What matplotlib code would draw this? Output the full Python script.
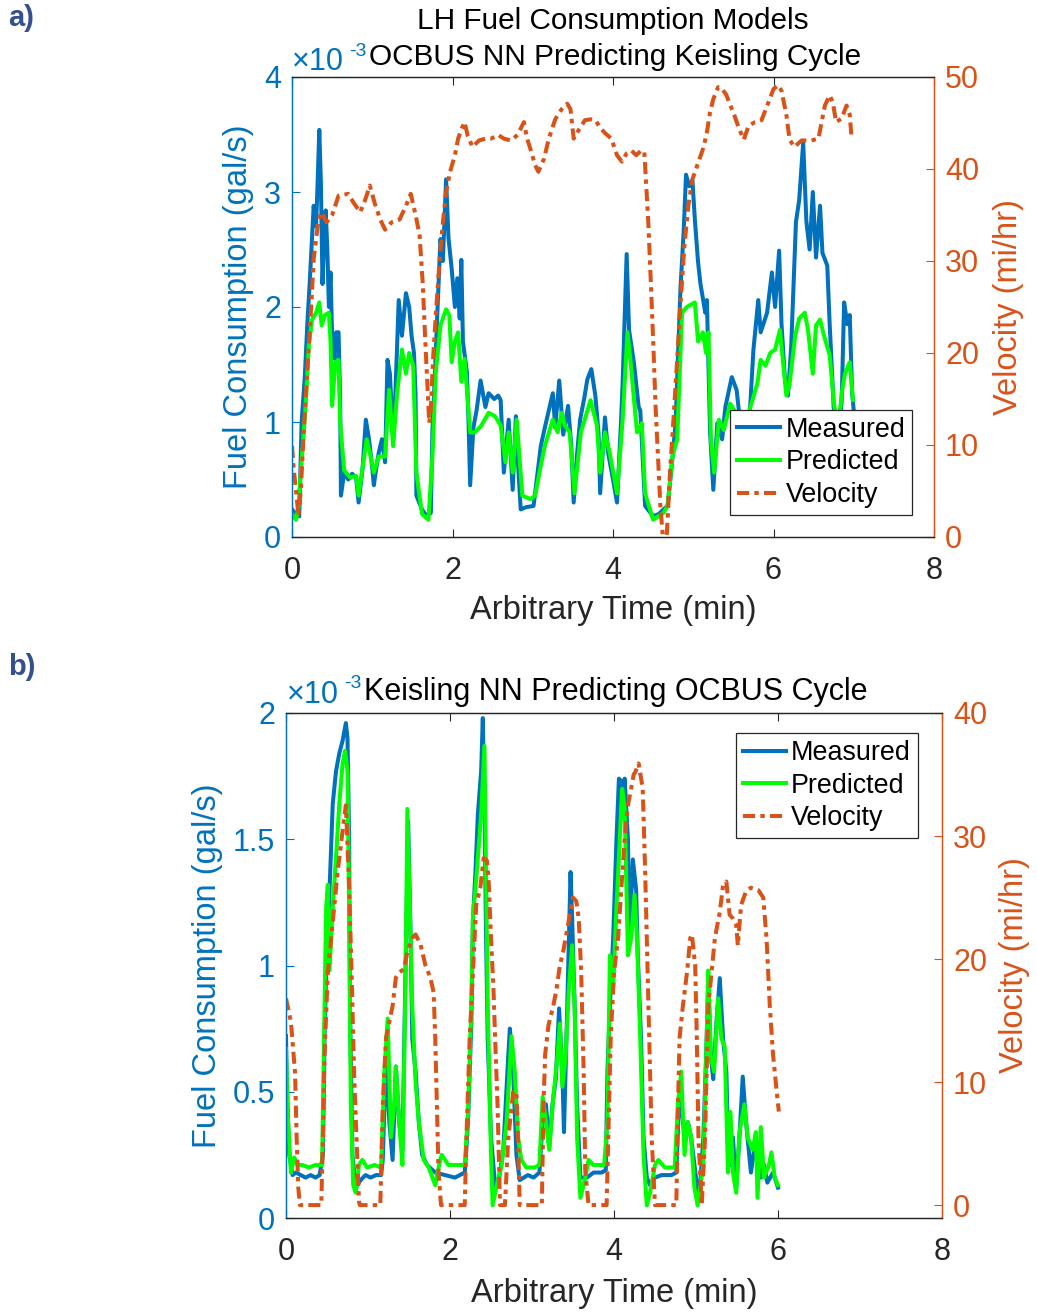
import matplotlib
matplotlib.use("Agg")
import matplotlib.pyplot as plt

plt.rcParams['font.family'] = ['Liberation Sans', 'DejaVu Sans']

W, H = 1037, 1314
BLUE = '#0072BD'
GREEN = '#00FF00'
ORANGE = '#D95319'
DARK = '#262626'

# ---- panel a: OCBUS NN predicting Keisling cycle (fuel in 1e-3 gal/s) ----
a_meas_t = [0.00, 0.05, 0.09, 0.12, 0.16, 0.19, 0.22, 0.24, 0.27, 0.30, 0.32, 0.34, 0.36, 0.38, 0.40,
            0.42, 0.44, 0.46, 0.48, 0.50, 0.53, 0.55, 0.58, 0.60, 0.61, 0.65, 0.70, 0.75, 0.80, 0.83,
            0.88, 0.92, 0.96, 1.00, 1.02, 1.05, 1.08, 1.12, 1.16, 1.19, 1.22, 1.26, 1.29, 1.33, 1.37,
            1.42, 1.46, 1.49, 1.52, 1.54, 1.55, 1.62, 1.68, 1.73, 1.75, 1.78, 1.81, 1.85, 1.88, 1.92,
            1.95, 1.99, 2.03, 2.06, 2.09, 2.11, 2.13, 2.18, 2.20, 2.22, 2.26, 2.30, 2.35, 2.41, 2.45,
            2.52, 2.57, 2.60, 2.64, 2.70, 2.75, 2.79, 2.82, 2.85, 2.92, 3.01, 3.10, 3.15, 3.20, 3.25,
            3.28, 3.33, 3.38, 3.44, 3.48, 3.51, 3.55, 3.59, 3.64, 3.68, 3.73, 3.78, 3.82, 3.84, 3.90,
            3.94, 4.00, 4.05, 4.10, 4.12, 4.17, 4.20, 4.26, 4.32, 4.34, 4.40, 4.50, 4.57, 4.63, 4.68,
            4.73, 4.78, 4.84, 4.88, 4.91, 4.95, 4.99, 5.02, 5.06, 5.09, 5.15, 5.17, 5.18, 5.21, 5.25,
            5.30, 5.36, 5.40, 5.48, 5.54, 5.60, 5.65, 5.71, 5.75, 5.81, 5.84, 5.92, 5.98, 6.02, 6.07,
            6.10, 6.14, 6.18, 6.22, 6.28, 6.32, 6.37, 6.41, 6.45, 6.49, 6.53, 6.58, 6.61, 6.67, 6.70,
            6.75, 6.80, 6.85, 6.88, 6.92, 6.95, 6.98, 7.00]
a_meas = [0.24, 0.20, 0.18, 1.00, 1.40, 1.84, 2.20, 2.47, 2.88, 2.70, 3.10, 3.54, 3.08, 2.20, 2.60,
          2.84, 2.50, 2.00, 2.30, 1.75, 1.55, 1.78, 1.78, 1.20, 0.36, 0.56, 0.50, 0.55, 0.51, 0.30,
          0.60, 1.02, 0.85, 0.60, 0.45, 0.60, 0.73, 0.85, 0.65, 1.54, 1.42, 0.85, 1.28, 2.06, 1.75,
          2.12, 2.00, 1.75, 1.60, 1.23, 0.36, 0.24, 0.18, 0.21, 0.93, 1.40, 1.93, 2.59, 2.40, 3.11,
          2.60, 2.33, 2.00, 2.25, 1.90, 2.41, 1.70, 1.43, 1.00, 0.45, 0.95, 1.10, 1.36, 1.13, 1.25,
          1.20, 1.23, 1.19, 0.56, 1.02, 0.41, 1.05, 0.60, 0.24, 0.26, 0.27, 0.79, 0.95, 1.10, 1.25,
          0.95, 1.36, 0.89, 1.14, 0.80, 0.30, 0.70, 1.02, 1.20, 1.37, 1.46, 1.23, 0.90, 0.38, 1.04,
          0.73, 0.50, 0.30, 1.00, 1.34, 2.46, 1.80, 1.52, 1.13, 1.10, 0.27, 0.18, 0.20, 0.24, 0.27,
          0.60, 0.99, 2.15, 2.65, 3.15, 3.05, 3.10, 2.76, 2.39, 2.20, 1.95, 2.06, 1.78, 0.91, 0.41,
          0.99, 0.85, 1.13, 1.39, 1.28, 0.90, 0.70, 1.14, 1.63, 2.06, 1.78, 1.95, 2.30, 2.00, 2.49,
          1.85, 1.40, 1.23, 1.65, 2.74, 2.93, 3.43, 2.74, 2.50, 3.00, 2.43, 2.88, 2.47, 2.36, 1.85,
          1.13, 0.70, 1.19, 2.04, 1.85, 1.93, 1.25, 1.10]

a_pred_t = [0.00, 0.05, 0.08, 0.11, 0.17, 0.21, 0.25, 0.30, 0.34, 0.37, 0.41, 0.46, 0.48, 0.50, 0.54,
            0.58, 0.60, 0.65, 0.72, 0.80, 0.83, 0.93, 0.98, 1.02, 1.08, 1.16, 1.21, 1.26, 1.31, 1.37,
            1.42, 1.46, 1.51, 1.55, 1.62, 1.70, 1.75, 1.79, 1.85, 1.92, 1.96, 1.99, 2.03, 2.07, 2.11,
            2.15, 2.22, 2.28, 2.36, 2.45, 2.53, 2.60, 2.66, 2.70, 2.75, 2.80, 2.87, 2.97, 3.03, 3.10,
            3.15, 3.25, 3.31, 3.36, 3.40, 3.46, 3.52, 3.60, 3.72, 3.80, 3.84, 3.90, 3.96, 4.05, 4.12,
            4.18, 4.22, 4.27, 4.30, 4.36, 4.40, 4.50, 4.63, 4.68, 4.74, 4.80, 4.86, 4.92, 4.97, 5.02,
            5.06, 5.12, 5.16, 5.19, 5.22, 5.26, 5.32, 5.38, 5.46, 5.60, 5.70, 5.80, 5.84, 5.90, 5.96,
            6.02, 6.08, 6.16, 6.20, 6.27, 6.32, 6.39, 6.43, 6.49, 6.53, 6.58, 6.63, 6.70, 6.75, 6.80,
            6.85, 6.89, 6.95, 6.99]
a_pred = [0.20, 0.15, 0.25, 0.56, 1.14, 1.67, 1.89, 1.95, 2.04, 1.84, 1.93, 1.95, 1.70, 1.14, 1.52,
          1.54, 1.00, 0.58, 0.52, 0.53, 0.36, 0.85, 0.70, 0.56, 0.70, 0.70, 1.28, 0.79, 1.25, 1.63,
          1.42, 1.60, 1.49, 0.56, 0.20, 0.15, 0.70, 1.42, 1.84, 1.98, 1.93, 1.52, 1.70, 1.78, 1.35,
          1.55, 0.91, 0.91, 0.97, 1.08, 1.05, 0.97, 0.65, 0.91, 0.56, 1.02, 0.36, 0.33, 0.36, 0.62,
          0.79, 1.02, 0.91, 1.08, 0.97, 0.91, 0.38, 0.91, 1.19, 0.97, 0.56, 0.91, 0.73, 0.38, 1.02,
          1.78, 1.52, 1.13, 0.91, 0.99, 0.38, 0.15, 0.21, 0.27, 0.70, 0.85, 1.95, 2.00, 2.02, 2.04,
          1.70, 1.78, 1.60, 1.78, 0.85, 0.56, 1.02, 0.93, 1.16, 1.00, 1.10, 1.34, 1.54, 1.49, 1.60,
          1.63, 1.80, 1.23, 1.33, 1.75, 1.90, 1.95, 1.80, 1.42, 1.84, 1.89, 1.75, 1.58, 1.19, 0.90,
          1.25, 1.42, 1.52, 1.19]

a_vel_t = [0.00, 0.02, 0.05, 0.08, 0.11, 0.15, 0.19, 0.24, 0.27, 0.33, 0.37, 0.43, 0.50, 0.58, 0.70,
           0.77, 0.85, 0.91, 0.97, 1.03, 1.10, 1.16, 1.24, 1.34, 1.42, 1.48, 1.54, 1.59, 1.63, 1.66,
           1.69, 1.71, 1.73, 1.76, 1.80, 1.84, 1.88, 1.92, 1.97, 2.03, 2.07, 2.11, 2.15, 2.19, 2.25,
           2.33, 2.41, 2.48, 2.57, 2.64, 2.73, 2.81, 2.89, 2.93, 2.97, 3.03, 3.07, 3.14, 3.20, 3.28,
           3.36, 3.43, 3.47, 3.51, 3.57, 3.65, 3.72, 3.78, 3.84, 3.90, 3.98, 4.05, 4.11, 4.17, 4.23,
           4.29, 4.35, 4.39, 4.41, 4.44, 4.47, 4.50, 4.53, 4.56, 4.59, 4.62, 4.67, 4.71, 4.75, 4.79,
           4.84, 4.89, 4.94, 4.99, 5.05, 5.13, 5.17, 5.21, 5.25, 5.31, 5.35, 5.41, 5.45, 5.51, 5.57,
           5.63, 5.69, 5.77, 5.85, 5.94, 6.00, 6.06, 6.10, 6.16, 6.20, 6.26, 6.35, 6.47, 6.56, 6.60,
           6.64, 6.70, 6.74, 6.78, 6.85, 6.91, 6.95, 6.97]
a_vel = [9.9, 7.5, 5.1, 2.3, 5.1, 12.1, 17.9, 25.2, 30.2, 34.5, 35.3, 34.2, 35.0, 37.1, 37.3,
         36.3, 35.3, 36.6, 38.2, 36.3, 34.5, 33.4, 34.2, 34.5, 36.0, 37.3, 35.0, 32.8, 27.4, 21.5,
         16.0, 12.4, 13.9, 19.7, 25.2, 30.2, 34.2, 37.5, 39.7, 41.5, 43.3, 44.3, 45.1, 43.6, 42.4,
         43.1, 43.3, 43.3, 43.7, 43.3, 43.1, 43.7, 45.1, 43.3, 42.2, 40.4, 39.7, 41.1, 43.3, 45.4,
         46.5, 47.1, 46.5, 43.3, 44.2, 45.3, 45.4, 45.3, 44.5, 43.9, 43.3, 41.5, 40.8, 41.7, 42.0,
         41.5, 42.0, 41.9, 38.9, 34.2, 28.0, 21.5, 14.3, 8.8, 3.4, 0.2, 0.2, 7.0, 12.3, 17.9,
         25.2, 31.7, 36.1, 38.9, 40.4, 42.4, 44.0, 46.2, 47.6, 48.9, 48.8, 48.1, 47.2, 45.9, 44.4,
         43.2, 44.7, 45.1, 45.3, 47.3, 48.7, 49.1, 48.5, 45.9, 43.2, 42.4, 43.1, 43.1, 43.3, 45.1,
         46.9, 48.0, 47.2, 45.1, 45.5, 46.9, 45.9, 43.7]

# ---- panel b: Keisling NN predicting OCBUS cycle ----
b_meas_t = [0.00, 0.01, 0.04, 0.08, 0.12, 0.18, 0.24, 0.30, 0.36, 0.41, 0.45, 0.47, 0.49, 0.53, 0.57,
            0.61, 0.65, 0.69, 0.73, 0.75, 0.77, 0.78, 0.81, 0.85, 0.91, 0.97, 1.03, 1.10, 1.16, 1.18,
            1.22, 1.26, 1.30, 1.34, 1.38, 1.42, 1.45, 1.48, 1.49, 1.52, 1.54, 1.58, 1.62, 1.66, 1.72,
            1.82, 1.94, 2.06, 2.18, 2.22, 2.26, 2.28, 2.31, 2.34, 2.38, 2.40, 2.42, 2.44, 2.46, 2.50,
            2.55, 2.59, 2.65, 2.71, 2.73, 2.77, 2.81, 2.85, 2.95, 3.02, 3.09, 3.13, 3.17, 3.21, 3.25,
            3.29, 3.33, 3.37, 3.39, 3.43, 3.45, 3.47, 3.49, 3.52, 3.55, 3.59, 3.67, 3.75, 3.85, 3.90,
            3.92, 3.95, 3.99, 4.03, 4.06, 4.09, 4.11, 4.13, 4.17, 4.19, 4.23, 4.27, 4.29, 4.33, 4.36,
            4.40, 4.44, 4.50, 4.58, 4.70, 4.76, 4.80, 4.86, 4.90, 4.94, 5.00, 5.04, 5.09, 5.13, 5.15,
            5.18, 5.21, 5.25, 5.29, 5.33, 5.37, 5.39, 5.42, 5.45, 5.49, 5.53, 5.57, 5.61, 5.67, 5.73,
            5.79, 5.83, 5.87, 5.94, 6.00]
b_meas = [0.72, 0.52, 0.25, 0.17, 0.18, 0.17, 0.16, 0.17, 0.16, 0.17, 0.25, 0.71, 0.98, 1.29, 1.64,
          1.77, 1.84, 1.89, 1.96, 1.90, 1.50, 0.84, 0.25, 0.12, 0.15, 0.17, 0.16, 0.17, 0.17, 0.23,
          0.64, 0.38, 0.23, 0.60, 0.38, 0.27, 0.84, 1.37, 1.57, 1.11, 0.71, 0.58, 0.38, 0.25, 0.21,
          0.18, 0.17, 0.16, 0.18, 0.38, 0.77, 1.18, 1.37, 1.60, 1.77, 1.98, 1.64, 1.11, 0.71, 0.32,
          0.13, 0.14, 0.27, 0.64, 0.75, 0.58, 0.25, 0.15, 0.17, 0.16, 0.18, 0.38, 0.45, 0.28, 0.45,
          0.55, 0.83, 0.58, 0.34, 0.84, 1.11, 1.37, 1.18, 0.84, 0.45, 0.16, 0.16, 0.18, 0.18, 0.19,
          0.58, 0.84, 1.11, 1.50, 1.74, 1.73, 1.66, 1.74, 1.50, 1.11, 1.42, 1.30, 1.04, 0.71, 0.32,
          0.16, 0.13, 0.16, 0.17, 0.17, 0.18, 0.52, 0.32, 0.38, 0.32, 0.16, 0.08, 0.32, 0.71, 0.95,
          0.64, 0.55, 0.78, 0.95, 0.71, 0.58, 0.32, 0.21, 0.32, 0.12, 0.32, 0.56, 0.38, 0.18, 0.32,
          0.16, 0.21, 0.14, 0.18, 0.12]

b_pred_t = [0.00, 0.02, 0.06, 0.10, 0.14, 0.20, 0.28, 0.36, 0.44, 0.47, 0.49, 0.51, 0.53, 0.57, 0.61,
            0.65, 0.69, 0.72, 0.75, 0.77, 0.79, 0.82, 0.85, 0.89, 0.93, 0.99, 1.08, 1.16, 1.20, 1.24,
            1.28, 1.32, 1.34, 1.38, 1.42, 1.46, 1.48, 1.51, 1.54, 1.58, 1.62, 1.68, 1.74, 1.82, 1.88,
            1.90, 1.98, 2.10, 2.18, 2.22, 2.26, 2.28, 2.31, 2.34, 2.38, 2.42, 2.44, 2.46, 2.50, 2.52,
            2.57, 2.63, 2.69, 2.75, 2.79, 2.83, 2.87, 2.93, 3.03, 3.09, 3.13, 3.17, 3.21, 3.26, 3.31,
            3.34, 3.37, 3.41, 3.45, 3.49, 3.52, 3.55, 3.59, 3.65, 3.69, 3.75, 3.88, 3.92, 3.95, 3.99,
            4.03, 4.07, 4.10, 4.13, 4.17, 4.21, 4.25, 4.28, 4.32, 4.36, 4.40, 4.44, 4.50, 4.54, 4.62,
            4.74, 4.78, 4.82, 4.86, 4.90, 4.94, 4.98, 5.02, 5.09, 5.13, 5.15, 5.18, 5.22, 5.27, 5.31,
            5.35, 5.39, 5.42, 5.45, 5.49, 5.53, 5.59, 5.63, 5.69, 5.73, 5.75, 5.79, 5.83, 5.89, 5.92,
            5.96, 6.00]
b_pred = [0.67, 0.41, 0.18, 0.24, 0.21, 0.21, 0.20, 0.21, 0.21, 0.84, 1.23, 1.32, 0.98, 1.23, 1.43,
          1.64, 1.80, 1.85, 1.77, 1.23, 0.45, 0.13, 0.10, 0.21, 0.23, 0.20, 0.21, 0.20, 0.58, 0.79,
          0.32, 0.45, 0.60, 0.38, 0.21, 0.98, 1.62, 1.23, 0.84, 0.54, 0.38, 0.23, 0.20, 0.13, 0.23,
          0.25, 0.21, 0.21, 0.21, 0.42, 0.84, 1.20, 1.30, 1.43, 1.60, 1.87, 1.37, 0.84, 0.25, 0.05,
          0.13, 0.21, 0.38, 0.72, 0.58, 0.32, 0.23, 0.20, 0.20, 0.21, 0.48, 0.38, 0.27, 0.48, 0.64,
          0.77, 0.52, 0.64, 0.91, 1.08, 0.84, 0.32, 0.08, 0.16, 0.23, 0.21, 0.21, 0.38, 1.04, 0.91,
          1.23, 1.50, 1.70, 1.62, 1.04, 1.11, 1.28, 1.11, 0.71, 0.25, 0.05, 0.10, 0.21, 0.23, 0.20,
          0.20, 0.45, 0.58, 0.25, 0.38, 0.32, 0.12, 0.05, 0.21, 0.71, 0.98, 0.64, 0.58, 0.87, 0.71,
          0.68, 0.18, 0.42, 0.18, 0.10, 0.34, 0.45, 0.32, 0.27, 0.34, 0.08, 0.36, 0.16, 0.21, 0.26,
          0.16, 0.13]

b_vel_t = [0.00, 0.06, 0.11, 0.13, 0.15, 0.17, 0.43, 0.45, 0.47, 0.51, 0.57, 0.63, 0.67, 0.71, 0.73,
           0.75, 0.77, 0.80, 0.83, 0.86, 0.89, 0.90, 1.15, 1.18, 1.22, 1.26, 1.30, 1.34, 1.38, 1.44,
           1.48, 1.54, 1.58, 1.64, 1.70, 1.76, 1.80, 1.82, 1.84, 1.86, 1.89, 2.18, 2.20, 2.24, 2.28,
           2.32, 2.37, 2.41, 2.45, 2.47, 2.50, 2.53, 2.55, 2.58, 2.61, 2.67, 2.71, 2.77, 2.81, 2.83,
           2.85, 3.12, 3.14, 3.16, 3.20, 3.26, 3.30, 3.34, 3.38, 3.44, 3.50, 3.54, 3.57, 3.60, 3.63,
           3.65, 3.69, 3.91, 3.93, 3.96, 4.00, 4.05, 4.09, 4.13, 4.17, 4.21, 4.24, 4.26, 4.30, 4.35,
           4.38, 4.41, 4.44, 4.46, 4.50, 4.76, 4.78, 4.80, 4.84, 4.89, 4.93, 4.95, 4.99, 5.01, 5.03,
           5.07, 5.11, 5.15, 5.19, 5.23, 5.29, 5.33, 5.37, 5.41, 5.45, 5.49, 5.51, 5.55, 5.61, 5.67,
           5.76, 5.82, 5.86, 5.90, 5.94, 5.98, 6.01]
b_vel = [16.8, 14.9, 10.8, 5.4, 1.4, 0.0, 0.0, 5.4, 12.2, 18.9, 23.0, 27.1, 29.3, 31.5, 32.5,
         29.3, 25.8, 18.9, 10.8, 5.4, 0.3, 0.0, 0.0, 8.1, 13.6, 14.9, 16.2, 18.5, 18.9, 19.2,
         20.6, 21.7, 22.0, 21.2, 19.5, 18.5, 17.3, 13.6, 8.1, 2.7, 0.0, 0.0, 5.4, 13.6, 18.9,
         24.4, 25.8, 28.2, 28.0, 26.6, 21.7, 17.6, 13.6, 8.1, 0.0, 0.0, 5.4, 9.2, 9.2, 5.4,
         0.0, 0.0, 8.1, 12.2, 14.6, 16.2, 17.6, 19.5, 20.6, 22.8, 25.0, 24.7, 23.3, 18.9, 10.8,
         2.7, 0.0, 0.0, 5.4, 13.6, 18.9, 21.7, 25.8, 29.8, 32.5, 33.9, 35.0, 35.2, 35.9, 33.9,
         27.1, 18.9, 10.8, 5.4, 0.0, 0.0, 8.1, 13.6, 16.2, 18.9, 21.7, 22.0, 19.5, 13.6, 5.4,
         0.0, 5.4, 16.2, 18.9, 21.7, 23.8, 26.0, 26.3, 23.6, 23.3, 22.8, 21.1, 24.4, 25.5, 25.8,
         25.6, 25.0, 21.7, 16.2, 12.2, 9.5, 7.6]

x_ticks = [0, 2, 4, 6, 8]
a_fuel_ticks = [0, 1, 2, 3, 4]
a_vel_ticks = [0, 10, 20, 30, 40, 50]
b_fuel_ticks = [0, 0.5, 1, 1.5, 2]
b_fuel_ticklabels = ['0', '0.5', '1', '1.5', '2']
b_vel_ticks = [0, 10, 20, 30, 40]

TICK_FS = 22
LEG_FS = 19.4
LABEL_FS = 23.5


def fxy(x, y):
    # pixel position -> figure fraction
    return x / W, 1 - y / H


def panel(ax, mt, m, pt, p, vt, v, fuel_lim, fuel_ticks, fuel_labels, vel_lim, vel_ticks,
          leg_loc, leg_anchor, ylab_x, vlab_x, xlab_y):
    ax.plot(mt, m, color=BLUE, lw=2.9, label='Measured')
    ax.plot(pt, p, color=GREEN, lw=2.9, label='Predicted')
    ax.set_xlim(0, 8)
    ax.set_ylim(*fuel_lim)
    ax.set_xticks(x_ticks)
    ax.set_yticks(fuel_ticks)
    ax.set_yticklabels(fuel_labels)
    ax.tick_params(axis='x', direction='in', top=True, length=6, width=0.8,
                   colors=DARK, labelsize=TICK_FS, pad=14)
    ax.tick_params(axis='y', direction='in', right=False, length=6, width=0.8,
                   colors=BLUE, labelsize=TICK_FS, pad=8)

    ax2 = ax.twinx()
    vl, = ax2.plot(vt, v, color=ORANGE, lw=2.9, label='Velocity')
    vl.set_dashes((3.0, 1.3, 1.1, 1.3))
    ax2.set_ylim(*vel_lim)
    ax2.set_yticks(vel_ticks)
    ax2.tick_params(axis='y', direction='in', length=6, width=0.8,
                    colors=ORANGE, labelsize=TICK_FS, pad=8)

    for a in (ax, ax2):
        a.spines['top'].set_color(DARK)
        a.spines['bottom'].set_color(DARK)
        a.spines['left'].set_color(BLUE)
        a.spines['right'].set_color(ORANGE)
        for s in a.spines.values():
            s.set_linewidth(0.9)

    ax.set_xlabel('Arbitrary Time (min)', fontsize=LABEL_FS, color=DARK, va='center')
    ax.xaxis.set_label_coords(0.5, xlab_y)
    ax.set_ylabel('Fuel Consumption (gal/s)', fontsize=LABEL_FS, color=BLUE, va='center')
    ax.yaxis.set_label_coords(ylab_x, 0.5)
    ax2.set_ylabel('Velocity (mi/hr)', fontsize=LABEL_FS, color=ORANGE, va='center')
    ax2.yaxis.set_label_coords(vlab_x, 0.5)

    handles = ax.get_lines() + [vl]
    leg = ax2.legend(handles, [h.get_label() for h in handles], loc=leg_loc,
                     bbox_to_anchor=leg_anchor, borderaxespad=0, fancybox=False,
                     framealpha=1, edgecolor=DARK, fontsize=LEG_FS,
                     handlelength=1.6, handletextpad=0.2, labelspacing=0.25,
                     borderpad=0.25)
    leg.get_frame().set_linewidth(0.9)
    return ax2


fig = plt.figure(figsize=(W / 100, H / 100), dpi=100)

ax_a = fig.add_axes([292 / W, 1 - 537 / H, 642 / W, 460 / H])
panel(ax_a, a_meas_t, a_meas, a_pred_t, a_pred, a_vel_t, a_vel,
      (0, 4), a_fuel_ticks, [str(t) for t in a_fuel_ticks], (0, 50), a_vel_ticks,
      'lower right', (0.966, 0.048), -0.084, 1.116, -0.159)

ax_b = fig.add_axes([286 / W, 1 - 1218 / H, 656 / W, 505 / H])
panel(ax_b, b_meas_t, b_meas, b_pred_t, b_pred, b_vel_t, b_vel,
      (0, 2), b_fuel_ticks, b_fuel_ticklabels, (-1.05, 40), b_vel_ticks,
      'upper right', (0.963, 0.960), -0.120, 1.111, -0.149)

# titles
fig.text(*fxy(613, 21), 'LH Fuel Consumption Models', ha='center', va='center',
         fontsize=21.4, color='black')
fig.text(*fxy(615, 57), 'OCBUS NN Predicting Keisling Cycle', ha='center', va='center',
         fontsize=21.4, color='black')
fig.text(*fxy(616, 692), 'Keisling NN Predicting OCBUS Cycle', ha='center', va='center',
         fontsize=22, color='black')

# exponent labels on the fuel axes
for xx, yy in ((292, 62), (287, 695)):
    fig.text(*fxy(xx, yy), '\u00d710', ha='left', va='center', fontsize=TICK_FS, color=BLUE)
    fig.text(*fxy(xx + 57, yy - 11), '-3', ha='left', va='center', fontsize=14, color=BLUE)

# panel letters
fig.text(*fxy(8, 18), 'a)', ha='left', va='center', fontsize=21, fontweight='bold',
         color='#34508F')
fig.text(*fxy(8, 667), 'b)', ha='left', va='center', fontsize=21, fontweight='bold',
         color='#34508F')

fig.savefig('out.png', dpi=100)
